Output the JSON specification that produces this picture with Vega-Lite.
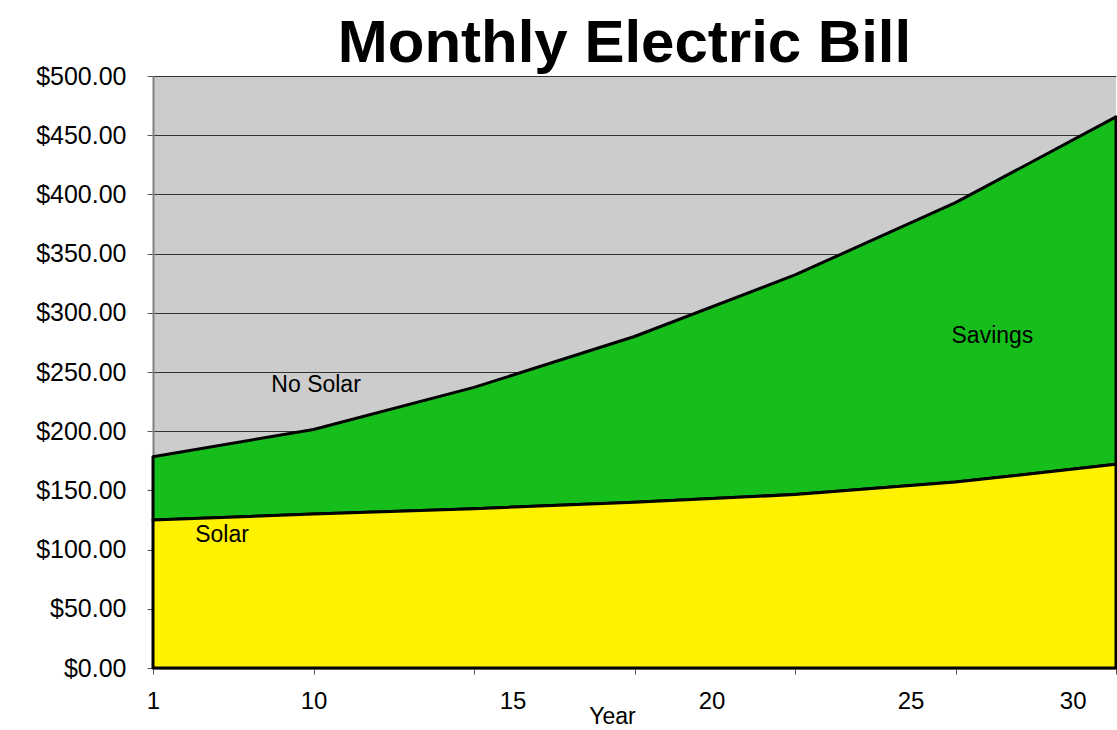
{
  "$schema": "https://vega.github.io/schema/vega-lite/v6.json",
  "autosize": {"type": "none"},
  "padding": {"left": 153, "top": 76, "right": 1, "bottom": 62},
  "width": 963,
  "height": 592,
  "background": "white",
  "title": {
    "text": "Monthly Electric Bill",
    "font": "Liberation Sans",
    "fontSize": 60,
    "fontWeight": "bold",
    "color": "black",
    "anchor": "middle",
    "offset": 6,
    "dx": -10,
    "dy": 17
  },
  "config": {
    "view": {"fill": "#cccccc", "stroke": null},
    "axis": {"labelFont": "Liberation Sans", "titleFont": "Liberation Sans", "labelColor": "black", "titleColor": "black"}
  },
  "datasets": {
    "bill": [
      {"point": 0, "solar": 125, "nosolar": 178.5},
      {"point": 1, "solar": 130, "nosolar": 201.5},
      {"point": 2, "solar": 134.5, "nosolar": 237},
      {"point": 3, "solar": 140, "nosolar": 280},
      {"point": 4, "solar": 146.5, "nosolar": 332},
      {"point": 5, "solar": 157, "nosolar": 393},
      {"point": 6, "solar": 172, "nosolar": 465.5}
    ],
    "notes": [
      {"label": "No Solar", "px": 1.016, "py": 239},
      {"label": "Savings", "px": 5.23, "py": 280.5},
      {"label": "Solar", "px": 0.43, "py": 112.5}
    ]
  },
  "resolve": {"axis": {"x": "independent"}},
  "layer": [
    {
      "data": {"name": "bill"},
      "mark": {"type": "area", "color": "#15be1b", "stroke": "black", "strokeWidth": 3, "strokeJoin": "round", "opacity": 1},
      "encoding": {
        "x": {
          "field": "point", "type": "quantitative",
          "scale": {"domain": [0, 6], "nice": false, "zero": false},
          "axis": {
            "orient": "bottom", "values": [0, 1, 2, 3, 4, 5, 6], "labels": false, "grid": false,
            "ticks": true, "tickSize": 6, "tickColor": "#555555", "tickWidth": 1,
            "domain": true, "domainColor": "#808080", "domainWidth": 2,
            "title": "Year", "titleFontSize": 23, "titleFontWeight": "normal",
            "titleX": 459, "titleY": 37, "titleBaseline": "top", "titleAnchor": "middle"
          }
        },
        "y": {
          "field": "nosolar", "type": "quantitative",
          "scale": {"domain": [0, 500], "nice": false},
          "axis": {
            "title": null, "values": [0, 50, 100, 150, 200, 250, 300, 350, 400, 450, 500],
            "format": "$.2f", "labelFontSize": 25, "labelPadding": 21,
            "tickSize": 6, "tickColor": "#555555", "domainColor": "#808080", "domainWidth": 2,
            "grid": true, "gridColor": "#333333", "gridWidth": 1
          }
        },
        "y2": {"field": "solar"}
      }
    },
    {
      "data": {"name": "bill"},
      "mark": {"type": "area", "color": "#fff200", "stroke": "black", "strokeWidth": 3, "strokeJoin": "round", "opacity": 1},
      "encoding": {
        "x": {"field": "point", "type": "quantitative", "axis": null},
        "y": {
          "field": "solar", "type": "quantitative",
          "axis": {
            "title": null, "values": [0, 50, 100, 150, 200, 250, 300, 350, 400, 450, 500],
            "format": "$.2f", "labelFontSize": 25, "labelPadding": 21,
            "tickSize": 6, "tickColor": "#555555", "domainColor": "#808080", "domainWidth": 2,
            "grid": true, "gridColor": "#333333", "gridWidth": 1
          }
        },
        "y2": {"datum": 0}
      }
    },
    {
      "data": {"name": "notes"},
      "mark": {"type": "text", "font": "Liberation Sans", "fontSize": 23, "color": "black", "align": "center", "baseline": "middle"},
      "encoding": {
        "x": {
          "field": "px", "type": "quantitative",
          "axis": {
            "orient": "bottom", "values": [0, 1, 2.24, 3.48, 4.72, 5.73],
            "labelExpr": "datum.value == 0 ? '1' : datum.value == 1 ? '10' : datum.value == 2.24 ? '15' : datum.value == 3.48 ? '20' : datum.value == 4.72 ? '25' : '30'",
            "labelFontSize": 24, "labelPadding": 21, "ticks": false, "tickSize": 0,
            "domain": false, "grid": false, "title": null, "labelAlign": "center", "labelFlush": false, "labelOverlap": false
          }
        },
        "y": {
          "field": "py", "type": "quantitative",
          "axis": {
            "title": null, "values": [0, 50, 100, 150, 200, 250, 300, 350, 400, 450, 500],
            "format": "$.2f", "labelFontSize": 25, "labelPadding": 21,
            "tickSize": 6, "tickColor": "#555555", "domainColor": "#808080", "domainWidth": 2,
            "grid": true, "gridColor": "#333333", "gridWidth": 1
          }
        },
        "text": {"field": "label"}
      }
    }
  ]
}
